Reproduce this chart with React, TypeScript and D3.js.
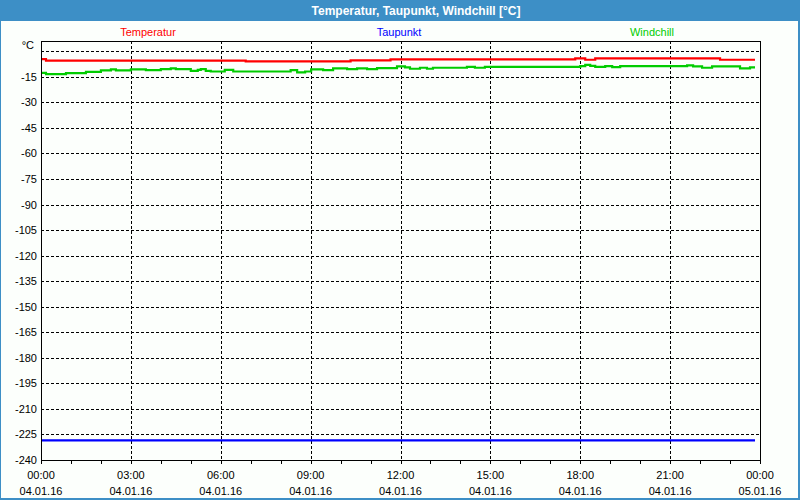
import React from "react";
import * as d3 from "d3";

// time in minutes since 04.01.16 00:00
const tempTimes = [0, 10, 410, 620, 700, 1070, 1090, 1110, 1360, 1430];
const tempValues = [-4.6, -5.5, -6.0, -5.4, -4.8, -4.2, -5.0, -4.2, -5.0, -5.0];

const dewTimes = [0, 1430];
const dewValues = [-228.5, -228.5];

const chillTimes = [0, 10, 50, 90, 120, 140, 150, 180, 210, 240, 260, 270, 300, 314, 320, 330, 340, 368, 385, 500, 513, 529, 541, 565, 585, 613, 633, 653, 673, 713, 729, 739, 759, 773, 785, 853, 869, 889, 1080, 1090, 1100, 1110, 1130, 1144, 1160, 1294, 1306, 1324, 1344, 1400, 1420, 1430];
const chillValues = [-12.7, -13.4, -12.9, -12.1, -11.3, -10.7, -11.3, -10.7, -11.1, -10.5, -10.1, -10.5, -11.5, -10.9, -10.5, -11.5, -11.9, -10.9, -11.9, -11.1, -12.4, -11.9, -10.7, -11.1, -10.1, -10.5, -10.1, -10.5, -9.9, -8.9, -9.5, -10.3, -9.7, -10.3, -9.7, -9.2, -9.7, -9.2, -8.7, -8.0, -8.6, -9.2, -8.7, -9.3, -8.7, -8.3, -8.9, -9.7, -8.9, -10.1, -9.5, -9.5];

const yTicks = [-15, -30, -45, -60, -75, -90, -105, -120, -135, -150, -165, -180, -195, -210, -225, -240];
const yGrid = [0, -15, -30, -45, -60, -75, -90, -105, -120, -135, -150, -165, -180, -195, -210, -225];
const xTickTimes = [0, 180, 360, 540, 720, 900, 1080, 1260, 1440];
const xTickTimeLabels = ["00:00", "03:00", "06:00", "09:00", "12:00", "15:00", "18:00", "21:00", "00:00"];
const xTickDateLabels = ["04.01.16", "04.01.16", "04.01.16", "04.01.16", "04.01.16", "04.01.16", "04.01.16", "04.01.16", "05.01.16"];
const xMinorTimes = d3.range(0, 1441, 60);

const title = "Temperatur, Taupunkt, Windchill [°C]";
const seriesNames = ["Temperatur", "Taupunkt", "Windchill"];
const seriesColors = ["#ff0000", "#0000ff", "#00cc00"];

export default function App() {
  const W = 800, H = 500;
  const left = 41, right = 760, top = 41, bottom = 460;
  const x = d3.scaleLinear().domain([0, 1440]).range([left, right]);
  const y = d3.scaleLinear().domain([-240, 6]).range([bottom, top]);
  const line = d3
    .line<[number, number]>()
    .x((d) => x(d[0]))
    .y((d) => y(d[1]))
    .curve(d3.curveStepAfter);
  const series = [
    { t: tempTimes, v: tempValues },
    { t: dewTimes, v: dewValues },
    { t: chillTimes, v: chillValues },
  ];
  const font = "Tahoma, 'Liberation Sans', Arial, sans-serif";
  const legendX = [148, 399, 652];

  return (
    <svg
      width={W}
      height={H}
      style={{ position: "absolute", left: 0, top: 0 }}
      fontFamily={font}
    >
      <rect x={0} y={0} width={W} height={H} fill="#3d8fc6" />
      <rect x={1} y={21} width={797} height={477} fill="#fcfffc" />
      <text x={416} y={15} fill="#ffffff" fontSize={12} fontWeight="bold" textAnchor="middle">
        {title}
      </text>
      {seriesNames.map((n, i) => (
        <text key={n} x={legendX[i]} y={36} fill={seriesColors[i]} fontSize={11} textAnchor="middle">
          {n}
        </text>
      ))}
      {/* grid */}
      {yGrid.map((v) => (
        <line key={"gy" + v} x1={left} x2={right} y1={Math.round(y(v)) + 0.5} y2={Math.round(y(v)) + 0.5} stroke="#000" strokeDasharray="3,2" />
      ))}
      {xTickTimes.slice(1, -1).map((t) => (
        <line key={"gx" + t} x1={Math.round(x(t)) + 0.5} x2={Math.round(x(t)) + 0.5} y1={top} y2={bottom} stroke="#000" strokeDasharray="3,2" />
      ))}
      {/* series */}
      {series.map((s, i) => (
        <path
          key={i}
          d={line(s.t.map((t, j) => [t, s.v[j]] as [number, number])) || ""}
          fill="none"
          stroke={seriesColors[i]}
          strokeWidth={2.2}
        />
      ))}
      {/* frame */}
      <rect x={left + 0.5} y={top + 0.5} width={right - left} height={bottom - top} fill="none" stroke="#000" />
      {/* x minor ticks */}
      {xMinorTimes.map((t) => (
        <line key={"mt" + t} x1={Math.round(x(t)) + 0.5} x2={Math.round(x(t)) + 0.5} y1={bottom} y2={bottom + 4} stroke="#000" />
      ))}
      {/* y labels */}
      <text x={34} y={49} fontSize={11} textAnchor="end" fill="#000">°C</text>
      {yTicks.map((v) => (
        <text key={"yl" + v} x={37} y={y(v) + 4} fontSize={11} textAnchor="end" fill="#000">
          {v}
        </text>
      ))}
      {xTickTimes.map((t, i) => (
        <g key={"xl" + i}>
          <text x={x(t)} y={479} fontSize={11} textAnchor="middle" fill="#000">
            {xTickTimeLabels[i]}
          </text>
          <text x={x(t)} y={495} fontSize={11} textAnchor="middle" fill="#000">
            {xTickDateLabels[i]}
          </text>
        </g>
      ))}
    </svg>
  );
}
